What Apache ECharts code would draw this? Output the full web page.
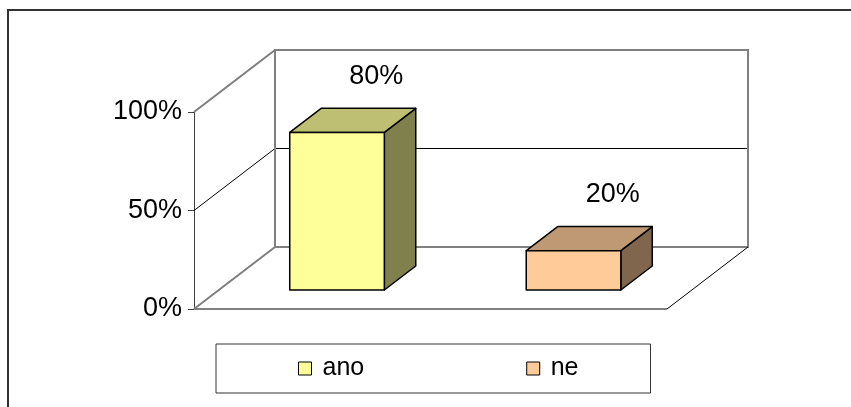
<!DOCTYPE html>
<html>
<head>
<meta charset="utf-8">
<style>
  html, body { margin: 0; padding: 0; background: #fff; }
  #chart { width: 851px; height: 407px; }
</style>
<script src="https://cdn.jsdelivr.net/npm/echarts@6/dist/echarts.min.js"></script>
</head>
<body>
<div id="chart"></div>
<script>
// Answer categories and their shares (percent)
const categories = ['ano', 'ne'];
const shares = [80, 20];
// Value axis ticks (percent)
const yTicks = [0, 50, 100];
// Front-face fill of each bar
const frontColors = ['#FFFF99', '#FFCC99'];

const FONT = '"Liberation Sans", Arial, sans-serif';
// Oblique projection of the chart depth (pixels)
const DX = 81, DY = -62;
// Bar footprint as fractions of the category band / depth
const BAR_WIDTH = 0.4, DEPTH_START = 0.306, DEPTH = 0.388;
const WALL = '#808080';

function shade(hex, k) {
  const n = parseInt(hex.slice(1), 16);
  const c = [(n >> 16) & 255, (n >> 8) & 255, n & 255].map(v => Math.round(v * k));
  return 'rgb(' + c.join(',') + ')';
}

// Walls, floor and gridlines of the 3D box
function renderFrame(params, api) {
  const half = api.size([1, 0])[0] / 2;
  const left = api.coord([categories[0], 0])[0] - half;
  const right = api.coord([categories[categories.length - 1], 0])[0] + half;
  const yAt = v => api.coord([categories[0], v])[1];
  const y0 = yAt(yTicks[0]);
  const yTop = yAt(yTicks[yTicks.length - 1]);
  const children = [];
  const line = (pts, stroke, w) => children.push({
    type: 'polyline', shape: { points: pts },
    style: { stroke: stroke, lineWidth: w, fill: null }
  });
  yTicks.forEach(t => {
    const y = yAt(t);
    line([[left, y], [left + DX, y + DY], [right + DX, y + DY]], '#000', 1);
  });
  // side wall top edge
  line([[left, yTop], [left + DX, yTop + DY]], WALL, 2);
  // back wall outline
  line([[left + DX, y0 + DY], [left + DX, yTop + DY], [right + DX, yTop + DY], [right + DX, y0 + DY], [left + DX, y0 + DY]], WALL, 2);
  // floor
  line([[left, y0], [left + DX, y0 + DY]], WALL, 2);
  line([[left, y0], [right, y0]], WALL, 2);
  line([[right, y0], [right + DX, y0 + DY]], '#000', 1);
  return { type: 'group', children: children };
}

// One 3D box per category with its value label
function renderBox(params, api) {
  const cat = api.value(0);
  const v = api.value(1);
  const idx = params.seriesIndex - 1;
  const band = api.size([1, 0])[0];
  const top = api.coord([cat, v]);
  const base = api.coord([cat, 0]);
  const cx = top[0];
  const w = band * BAR_WIDTH;
  const ox = DX * DEPTH_START, oy = DY * DEPTH_START;
  const dx = DX * DEPTH, dy = DY * DEPTH;
  const x0 = cx - w / 2 + ox, x1 = cx + w / 2 + ox;
  const yt = top[1] + oy, yb = base[1] + oy;
  const col = frontColors[idx];
  const edge = { stroke: '#000', lineWidth: 1.5, lineJoin: 'round' };
  return {
    type: 'group',
    children: [
      { type: 'polygon', shape: { points: [[x1, yt], [x1 + dx, yt + dy], [x1 + dx, yb + dy], [x1, yb]] },
        style: Object.assign({ fill: shade(col, 0.5) }, edge) },
      { type: 'polygon', shape: { points: [[x0, yt], [x0 + dx, yt + dy], [x1 + dx, yt + dy], [x1, yt]] },
        style: Object.assign({ fill: shade(col, 0.75) }, edge) },
      { type: 'polygon', shape: { points: [[x0, yt], [x1, yt], [x1, yb], [x0, yb]] },
        style: Object.assign({ fill: col }, edge) },
      { type: 'text', x: cx + 64, y: top[1] - 75,
        style: { text: v + '%', fill: '#000', font: '27px ' + FONT, align: 'center', verticalAlign: 'middle' } }
    ]
  };
}

const chart = echarts.init(document.getElementById('chart'), null, { renderer: 'canvas' });

const series = [{
  type: 'custom', name: 'frame', silent: true, clip: false, z: 1,
  data: [[categories[0], 0]],
  renderItem: renderFrame
}];
categories.forEach((c, i) => {
  series.push({
    type: 'custom', name: c, clip: false, z: 2,
    itemStyle: { color: frontColors[i] },
    data: [[c, shares[i]]],
    renderItem: renderBox
  });
});

chart.setOption({
  animation: false,
  backgroundColor: '#fff',
  graphic: [{
    type: 'rect', z: 100, silent: true,
    shape: { x: 8, y: 10, width: 900, height: 500 },
    style: { fill: null, stroke: '#333', lineWidth: 2 }
  }],
  grid: { left: 194, top: 112, width: 473, height: 197 },
  xAxis: {
    type: 'category', data: categories, show: false, boundaryGap: true
  },
  yAxis: {
    type: 'value', min: 0, max: 100, interval: 50,
    axisLine: { show: true, lineStyle: { color: '#404040', width: 1 } },
    axisTick: { show: true, length: 6, lineStyle: { color: '#404040' } },
    splitLine: { show: false },
    axisLabel: { margin: 12, formatter: '{value}%', color: '#000', fontSize: 27, fontFamily: FONT }
  },
  legend: {
    data: categories.map((n, i) => ({
      name: n, itemStyle: { color: frontColors[i], borderColor: '#000', borderWidth: 1 }
    })),
    selectedMode: false,
    icon: 'rect', itemWidth: 13, itemHeight: 13,
    left: 216, top: 344,
    padding: [12, 72, 12, 82], itemGap: 162,
    backgroundColor: '#fff', borderColor: '#333', borderWidth: 1,
    textStyle: { fontSize: 25, fontFamily: FONT, color: '#000', padding: [0, 0, 0, 6] }
  },
  series: series
});
</script>
</body>
</html>
